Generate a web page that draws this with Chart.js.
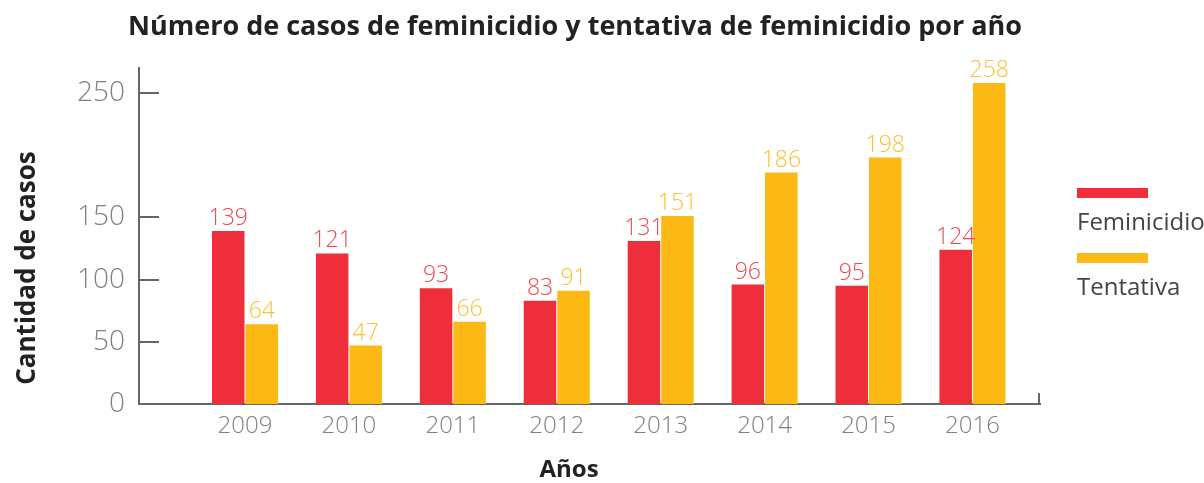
<!DOCTYPE html>
<html>
<head>
<meta charset="utf-8">
<script src="https://cdn.jsdelivr.net/npm/chart.js@4.4.0/dist/chart.umd.min.js"></script>
<style>
html,body{margin:0;padding:0;background:#fff;}
</style>
</head>
<body>
<canvas id="graficaCasos" width="1204" height="483"></canvas>
<script>

const years = [2009,2010,2011,2012,2013,2014,2015,2016];
const feminicidio = [139,121,93,83,131,96,95,124];
const tentativa = [64,47,66,91,151,186,198,258];
const yTicks = [0,50,100,150,250];
const seriesNames = ["Feminicidio","Tentativa"];

const titulo = "Número de casos de feminicidio y tentativa de feminicidio por año";
const tituloY = "Cantidad de casos";
const tituloX = "Años";

const rojo = "#EE2E3B";
const amarillo = "#FDB913";
const rojoTexto = "#F04651";
const amarilloTexto = "#FDBF2E";
const gris = "#666666";
const fuente = "'Open Sans', 'DejaVu Sans', sans-serif";


/* etiquetas, titulos, marcas y leyenda */

const decoracion = {
id:"decoracion",

afterDatasetsDraw(chart){

const ctx = chart.ctx;
const colores = [rojoTexto, amarilloTexto];

ctx.save();
ctx.font = "300 23px " + fuente;
ctx.textAlign = "center";
ctx.textBaseline = "alphabetic";

chart.data.datasets.forEach((ds,i)=>{
const meta = chart.getDatasetMeta(i);
ctx.fillStyle = colores[i];
meta.data.forEach((bar,j)=>{
ctx.fillText(String(ds.data[j].y), bar.x, bar.y - 6);
});
});

ctx.restore();
},

afterDraw(chart){

const ctx = chart.ctx;
const area = chart.chartArea;
const y = chart.scales.y;

ctx.save();

/* marcas hacia adentro en el eje y */
ctx.strokeStyle = gris;
ctx.lineWidth = 2;
y.ticks.forEach(t=>{
const py = Math.round(y.getPixelForValue(t.value));
ctx.beginPath();
ctx.moveTo(area.left, py);
ctx.lineTo(area.left + 20, py);
ctx.stroke();
});

/* marca final del eje x */
ctx.beginPath();
ctx.moveTo(area.right - 1, area.bottom);
ctx.lineTo(area.right - 1, area.bottom - 11);
ctx.stroke();

/* titulo */
ctx.fillStyle = "#222222";
ctx.font = "bold 27px " + fuente;
ctx.textAlign = "center";
ctx.textBaseline = "alphabetic";
ctx.fillText(titulo, 575, 35);

/* titulo eje x */
ctx.font = "bold 24px " + fuente;
ctx.fillText(tituloX, 569, 477);

/* titulo eje y */
ctx.save();
ctx.font = "bold 26px " + fuente;
ctx.translate(35, 268);
ctx.rotate(-Math.PI/2);
ctx.fillText(tituloY, 0, 0);
ctx.restore();

/* leyenda */
ctx.textAlign = "left";
ctx.font = "24px " + fuente;
chart.data.datasets.forEach((ds,i)=>{
ctx.fillStyle = ds.backgroundColor;
ctx.fillRect(1077, 188 + i*65, 71, 10);
ctx.fillStyle = "#444444";
ctx.fillText(seriesNames[i], 1077, 230 + i*65);
});

ctx.restore();
}
};


new Chart(
document.getElementById("graficaCasos"),
{
type:"bar",
data:{
datasets:[
{
label:seriesNames[0],
data:years.map((a,i)=>({x:a,y:feminicidio[i]})),
backgroundColor:rojo,
borderWidth:0,
barPercentage:0.97,
categoryPercentage:0.645
},
{
label:seriesNames[1],
data:years.map((a,i)=>({x:a,y:tentativa[i]})),
backgroundColor:amarillo,
borderWidth:0,
barPercentage:0.97,
categoryPercentage:0.645
}
]
},
options:{
responsive:false,
animation:false,
devicePixelRatio:1,
layout:{
padding:{top:68,right:164,left:0,bottom:0}
},
plugins:{
legend:{display:false},
title:{display:false},
tooltip:{enabled:false}
},
scales:{
x:{
type:"linear",
min:2007.98,
max:2016.65,
offset:false,
grid:{display:false,drawTicks:false,offset:false},
border:{display:true,color:gris,width:2},
afterBuildTicks:s=>{
s.ticks = years.map(v=>({value:v}));
},
afterFit:s=>{
s.height = 79;
},
ticks:{
autoSkip:false,
maxRotation:0,
padding:8,
color:"#808080",
font:{family:fuente,size:24,weight:"300"},
callback:v=>String(v)
}
},
y:{
min:0,
max:270,
grid:{display:false,drawTicks:false},
border:{display:true,color:gris,width:2},
afterBuildTicks:s=>{
s.ticks = yTicks.map(v=>({value:v}));
},
afterFit:s=>{
s.width = 139;
},
ticks:{
padding:14,
color:"#808080",
font:{family:fuente,size:28,weight:"300"}
}
}
}
},
plugins:[decoracion]
});

</script>
</body>
</html>
